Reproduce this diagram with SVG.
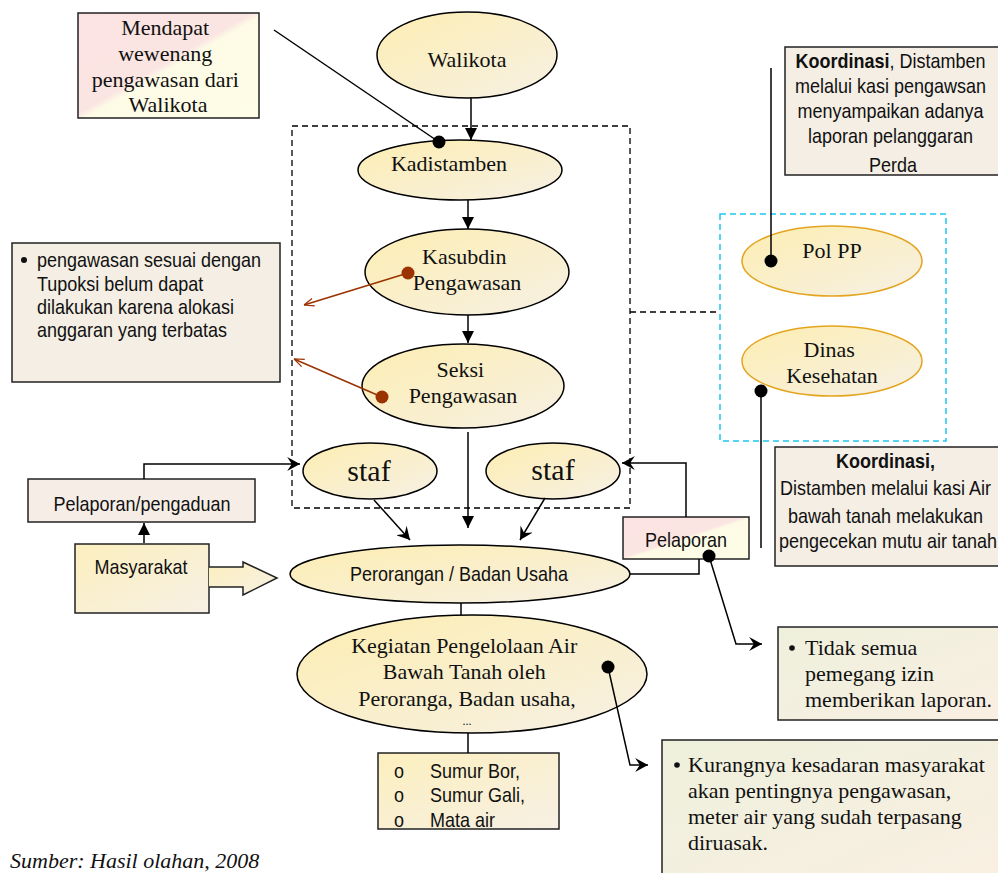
<svg xmlns="http://www.w3.org/2000/svg" width="998" height="873" viewBox="0 0 998 873">
<defs>
<linearGradient id="gEll" x1="0" y1="0" x2="1" y2="1">
<stop offset="0" stop-color="#fdeeb2"/><stop offset="1" stop-color="#f6f0e4"/>
</linearGradient>
<linearGradient id="gPink" x1="0" y1="0" x2="1" y2="1">
<stop offset="0" stop-color="#fbe3e3"/><stop offset="0.48" stop-color="#fbe5e2"/><stop offset="0.52" stop-color="#fdfbe6"/><stop offset="1" stop-color="#fefde8"/>
</linearGradient>
<linearGradient id="gYel" x1="0" y1="0" x2="1" y2="1">
<stop offset="0" stop-color="#fcefbe"/><stop offset="1" stop-color="#f7f0e4"/>
</linearGradient>
<linearGradient id="gGreen" x1="0" y1="0" x2="1" y2="1">
<stop offset="0" stop-color="#eef0dc"/><stop offset="1" stop-color="#f9efe2"/>
</linearGradient>
<marker id="arr" viewBox="0 0 10 10" refX="10" refY="5" markerWidth="12" markerHeight="12" markerUnits="userSpaceOnUse" orient="auto">
<path d="M0,0 L10,5 L0,10 z" fill="#000"/>
</marker>
<marker id="arrL" viewBox="0 0 12 12" refX="11" refY="6" markerWidth="14" markerHeight="14" markerUnits="userSpaceOnUse" orient="auto">
<path d="M0,0 L11,6 L0,12 L4,6 z" fill="#000"/>
</marker>
<marker id="arrO" viewBox="0 0 10 10" refX="10" refY="5" markerWidth="10" markerHeight="10" markerUnits="userSpaceOnUse" orient="auto">
<path d="M0,1 L10,5 L0,9" fill="none" stroke="#9a3300" stroke-width="1.2"/>
</marker>
</defs>
<style>
.ell{fill:url(#gEll);stroke:#000;stroke-width:1.5}
.ell2{fill:url(#gEll);stroke:#e3a520;stroke-width:1.5}
.tnr{font-family:"Liberation Serif","Times New Roman",serif;fill:#111;font-size:22px}
.nar{font-family:"Liberation Sans",Arial,sans-serif;fill:#111;font-size:21px}
.box{stroke:#222;stroke-width:1.5}
.ln{stroke:#000;stroke-width:1.5;fill:none}
.rd{stroke:#9a3300;stroke-width:1.5;fill:none}
</style>

<g id="walikota">
<ellipse class="ell" cx="467" cy="55" rx="90" ry="43"/>
<text class="tnr" x="467" y="67" text-anchor="middle">Walikota</text>
</g>

<g id="mendapat">
<rect class="box" x="78" y="13" width="181" height="105" fill="url(#gPink)"/>
<text class="tnr" text-anchor="middle">
<tspan x="168" y="35">Mendapat</tspan>
<tspan x="168" y="61">wewenang</tspan>
<tspan x="168" y="87">pengawasan dari</tspan>
<tspan x="168" y="112">Walikota</tspan>
</text>
</g>

<g id="kadistamben">
<ellipse class="ell" cx="460" cy="170" rx="102" ry="30"/>
<text class="tnr" x="449" y="171" text-anchor="middle">Kadistamben</text>
</g>

<g id="kasubdin">
<ellipse class="ell" cx="467" cy="272" rx="102" ry="43"/>
<text class="tnr" text-anchor="middle">
<tspan x="467" y="264">Kasubdin</tspan>
<tspan x="467" y="290">Pengawasan</tspan>
</text>
</g>

<g id="seksi">
<ellipse class="ell" cx="463" cy="386" rx="101" ry="42"/>
<text class="tnr" text-anchor="middle">
<tspan x="463" y="377">Seksi</tspan>
<tspan x="463" y="403">Pengawasan</tspan>
</text>
</g>

<g id="staf-left">
<ellipse class="ell" cx="370" cy="471" rx="67" ry="28"/>
<text class="tnr" x="369" y="481" text-anchor="middle" style="font-size:30px">staf</text>
</g>

<g id="staf-right">
<ellipse class="ell" cx="553" cy="471" rx="67" ry="28"/>
<text class="tnr" x="553" y="480" text-anchor="middle" style="font-size:30px">staf</text>
</g>

<g id="keterangan-anggaran">
<rect class="box" x="12" y="243" width="268" height="139" fill="#f4eee4"/>
<circle cx="24" cy="260" r="3" fill="#111"/>
<text class="nar" transform="translate(37,0) scale(0.857,1)">
<tspan x="0" y="267">pengawasan sesuai dengan</tspan>
<tspan x="0" y="291">Tupoksi belum  dapat</tspan>
<tspan x="0" y="314">dilakukan karena alokasi</tspan>
<tspan x="0" y="337">anggaran yang terbatas</tspan>
</text>
</g>

<g id="koordinasi-polpp">
<rect class="box" x="785" y="47" width="215" height="128" fill="#f4eee4"/>
<text class="nar" text-anchor="middle" transform="translate(893,0) scale(0.857,1)">
<tspan x="0" y="68"><tspan font-weight="bold">Koordinasi</tspan>, Distamben</tspan>
<tspan x="0" y="93">melalui kasi pengawsan</tspan>
<tspan x="0" y="118">menyampaikan adanya</tspan>
<tspan x="0" y="143">laporan pelanggaran</tspan>
<tspan x="0" y="172">Perda</tspan>
</text>
</g>

<g id="polpp">
<ellipse class="ell2" cx="832" cy="261" rx="90" ry="35"/>
<text class="tnr" x="832" y="258" text-anchor="middle">Pol PP</text>
</g>

<g id="dinas-kesehatan">
<ellipse class="ell2" cx="832" cy="361" rx="90" ry="35"/>
<text class="tnr" text-anchor="middle">
<tspan x="832" y="357">Dinas</tspan>
<tspan x="832" y="383">Kesehatan</tspan>
</text>
</g>

<g id="koordinasi-dinkes">
<rect class="box" x="775" y="447" width="225" height="119" fill="#f4eee4"/>
<text class="nar" text-anchor="middle" transform="translate(888,0) scale(0.857,1)">
<tspan x="0" y="468" font-weight="bold">Koordinasi,</tspan>
<tspan x="0" y="495">Distamben melalui kasi Air</tspan>
<tspan x="0" y="523">bawah tanah  melakukan</tspan>
<tspan x="0" y="548">pengecekan mutu air tanah</tspan>
</text>
</g>

<g id="pelaporan-pengaduan">
<rect class="box" x="28" y="479" width="227" height="43" fill="#f5ede6"/>
<text class="nar" text-anchor="middle" transform="translate(142,0) scale(0.857,1)" x="0" y="511">Pelaporan/pengaduan</text>
</g>

<g id="masyarakat">
<rect class="box" x="75" y="544" width="134" height="69" fill="url(#gYel)"/>
<path class="box" d="M209,567 L243,567 L243,562 L277,578 L243,595 L243,587 L209,587" fill="url(#gYel)"/>
<text class="nar" text-anchor="middle" transform="translate(141,0) scale(0.857,1)" x="0" y="574">Masyarakat</text>
</g>

<g id="pelaporan">
<rect class="box" x="623" y="517" width="126" height="42" fill="url(#gPink)"/>
<text class="nar" text-anchor="middle" transform="translate(686,0) scale(0.857,1)" x="0" y="547">Pelaporan</text>
</g>

<g id="perorangan">
<ellipse class="ell" cx="460" cy="574" rx="170" ry="29"/>
<text class="nar" text-anchor="middle" transform="translate(459,0) scale(0.857,1)" x="0" y="581">Perorangan / Badan Usaha</text>
</g>

<g id="kegiatan">
<ellipse class="ell" cx="472" cy="674" rx="175" ry="59"/>
<text class="tnr" text-anchor="middle">
<tspan x="467" y="653">Kegiatan Pengelolaan Air</tspan>
<tspan x="467" y="679">Bawah Tanah oleh</tspan>
<tspan x="467" y="706">Peroranga, Badan usaha,</tspan>
</text>
<text class="tnr" x="467" y="725" text-anchor="middle" style="font-size:12px">...</text>
</g>

<g id="sumur">
<rect class="box" x="378" y="753" width="181" height="76" fill="url(#gYel)"/>
<text class="nar" transform="translate(394,0) scale(0.857,1)">
<tspan x="0" y="778">o</tspan><tspan x="42" y="778">Sumur Bor,</tspan>
<tspan x="0" y="802">o</tspan><tspan x="42" y="802">Sumur Gali,</tspan>
<tspan x="0" y="827">o</tspan><tspan x="42" y="827">Mata air</tspan>
</text>
</g>

<g id="tidak-semua">
<rect class="box" x="778" y="627" width="222" height="93" fill="url(#gGreen)"/>
<circle cx="792" cy="648" r="2.8" fill="#111"/>
<text class="tnr">
<tspan x="805" y="655">Tidak semua</tspan>
<tspan x="805" y="681">pemegang izin</tspan>
<tspan x="805" y="707">memberikan laporan.</tspan>
</text>
</g>

<g id="kurangnya">
<rect class="box" x="662" y="740" width="338" height="140" fill="url(#gGreen)"/>
<circle cx="677" cy="765" r="2.8" fill="#111"/>
<text class="tnr">
<tspan x="688" y="772">Kurangnya kesadaran masyarakat</tspan>
<tspan x="688" y="798">akan pentingnya pengawasan,</tspan>
<tspan x="688" y="824">meter air yang sudah terpasang</tspan>
<tspan x="688" y="850">diruasak.</tspan>
</text>
</g>

<g id="connectors">
<rect x="292" y="126" width="338" height="382" fill="none" stroke="#000" stroke-width="1.3" stroke-dasharray="6,4"/>
<rect x="720" y="214" width="226" height="227" fill="none" stroke="#1ec8f0" stroke-width="1.5" stroke-dasharray="6,4"/>
<line x1="630" y1="312" x2="720" y2="312" stroke="#000" stroke-width="1.3" stroke-dasharray="6,4"/>
<line class="ln" x1="471" y1="98" x2="471" y2="140" marker-end="url(#arr)"/>
<line class="ln" x1="274" y1="30" x2="439" y2="142"/>
<circle cx="439" cy="142" r="6.5" fill="#000"/>
<line class="ln" x1="468" y1="200" x2="468" y2="229" marker-end="url(#arr)"/>
<line class="ln" x1="468" y1="315" x2="468" y2="343" marker-end="url(#arr)"/>
<line class="rd" x1="408" y1="273" x2="304" y2="305" marker-end="url(#arrO)"/>
<circle cx="408" cy="273" r="6.5" fill="#9a3300"/>
<line class="rd" x1="382" y1="397" x2="294" y2="359" marker-end="url(#arrO)"/>
<circle cx="382" cy="397" r="6.5" fill="#9a3300"/>
<line class="ln" x1="468" y1="432" x2="468" y2="528" marker-end="url(#arr)"/>
<line class="ln" x1="374" y1="500" x2="410" y2="540" marker-end="url(#arrL)"/>
<line class="ln" x1="545" y1="498" x2="520" y2="540" marker-end="url(#arrL)"/>
<polyline class="ln" points="144,479 144,464 300,464" marker-end="url(#arrL)"/>
<line class="ln" x1="144" y1="543" x2="144" y2="523" marker-end="url(#arr)"/>
<polyline class="ln" points="686,517 686,463 622,463" marker-end="url(#arrL)"/>
<polyline class="ln" points="630,574 699,574 699,559"/>
<polyline class="ln" points="709,556 736,644 762,644" marker-end="url(#arrL)"/>
<circle cx="709" cy="556" r="6.5" fill="#000"/>
<line class="ln" x1="461" y1="603" x2="461" y2="615"/>
<line class="ln" x1="468" y1="733" x2="468" y2="753"/>
<polyline class="ln" points="608,667 630,765 648,765" marker-end="url(#arrL)"/>
<circle cx="608" cy="667" r="6.5" fill="#000"/>
<line class="ln" x1="771" y1="68" x2="771" y2="261"/>
<circle cx="771" cy="261" r="6.5" fill="#000"/>
<line class="ln" x1="761" y1="391" x2="761" y2="548"/>
<circle cx="761" cy="391" r="6.5" fill="#000"/>
</g>

<text class="tnr" x="10" y="868" font-style="italic">Sumber: Hasil olahan, 2008</text>
</svg>
